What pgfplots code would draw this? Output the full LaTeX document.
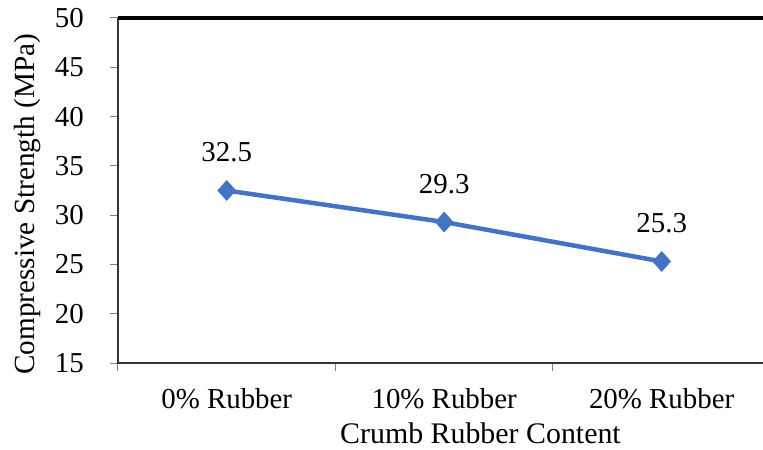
\documentclass[border=0pt]{standalone}
\usepackage{fontspec}
\setmainfont{Liberation Serif}
\usepackage{pgfplots}
\pgfplotsset{compat=1.18}
\definecolor{lineblue}{HTML}{4472C4}
\begin{document}
\begin{tikzpicture}
\begin{axis}[
  scale only axis, width=645bp, height=345bp,
  xmin=-0.5, xmax=2.466, ymin=15, ymax=50,
  ytick={15,20,...,50},
  xtick={-0.5,0.5,1.5},
  xticklabels={},
  extra x ticks={0,1,2},
  extra x tick labels={0\% Rubber,10\% Rubber,20\% Rubber},
  extra x tick style={major tick length=0pt, tick label style={anchor=north, inner sep=0pt, yshift=-25bp}},
  xtick pos=bottom, ytick pos=left,
  tick align=outside,
  major tick length=8bp,
  tick style={gray, line width=1bp},
  yticklabel style={anchor=east, inner sep=0pt, xshift=-26bp},
  axis line style={draw=none},
  font=\fontsize{29}{32}\selectfont,
  /pgf/number format/assume math mode=true,
  xlabel={Crumb Rubber Content},
  ylabel={Compressive Strength (MPa)},
  xlabel style={at={(axis description cs:0.5,0)}, anchor=north, inner sep=0pt, xshift=40bp, yshift=-60bp, font=\fontsize{30}{32}\selectfont},
  ylabel style={at={(axis description cs:-0.141,0.46)}, anchor=center, inner sep=0pt, font=\fontsize{29.3}{32}\selectfont},
  clip=false,
  nodes near coords,
  point meta=explicit symbolic,
  every node near coord/.append style={anchor=base, inner sep=0pt, yshift=29bp, text=black},
]
\draw[gray!40!black, line width=2.5bp] (rel axis cs:0,1) -- (rel axis cs:0,0) -- (rel axis cs:1,0);
\draw[black, line width=3.5bp] (rel axis cs:0,1) -- (rel axis cs:1,1);
\addplot[lineblue, line width=4.5bp, mark=diamond*, mark size=10bp, mark options={solid, fill=lineblue, line width=0.5bp, xscale=1.2}]
  coordinates {(0,32.5)[32.5] (1,29.3)[29.3] (2,25.3)[25.3]};
\end{axis}
\pgfresetboundingbox
\path[use as bounding box] (current axis.south west) ++(-118bp,-87bp) rectangle ++(763bp,450bp);
\end{tikzpicture}
\end{document}
